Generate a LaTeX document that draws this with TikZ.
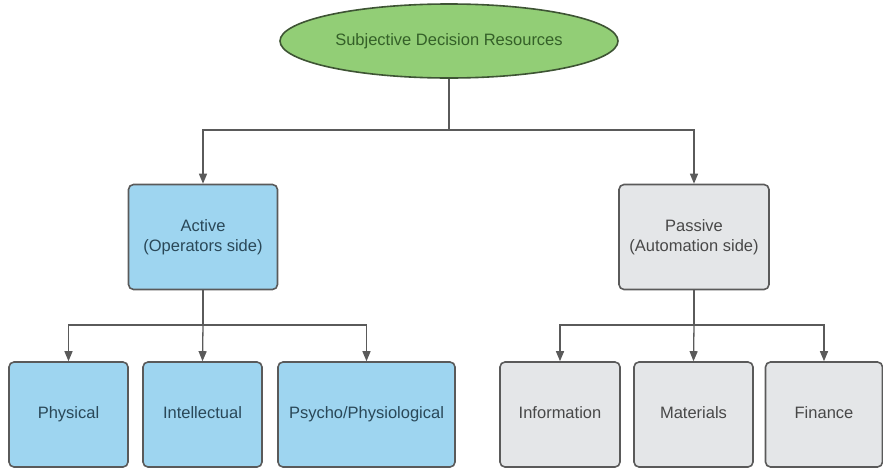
\documentclass[tikz,border=0pt]{standalone}
\usepackage{fontspec}
\setmainfont{Liberation Sans}
\usetikzlibrary{arrows.meta,shapes.geometric}

\definecolor{rootfill}{RGB}{146,206,118}
\definecolor{rootline}{RGB}{62,84,52}
\definecolor{rootText}{RGB}{52,96,40}
\definecolor{actfill}{RGB}{158,213,240}
\definecolor{actText}{RGB}{42,72,88}
\definecolor{pasfill}{RGB}{228,230,232}
\definecolor{pasText}{RGB}{72,72,72}
\definecolor{edge}{RGB}{90,90,90}

\tikzset{
  box/.style={draw=edge,line width=1.6pt,rounded corners=5pt,minimum height=105pt,
    align=center,font=\fontsize{16.5}{19.5}\selectfont},
  actbox/.style={box,fill=actfill,text=actText},
  pasbox/.style={box,fill=pasfill,text=pasText},
  leaf/.style={text height=12pt,text depth=3.5pt},
  link/.style={draw=edge,line width=1.3pt},
  arr/.style={link,-{Triangle[width=8pt,length=10pt]}}
}

\begin{document}
\begin{tikzpicture}[x=1pt,y=-1pt]
	\useasboundingbox (0,0) rectangle (883,469);
	\node[ellipse,draw=rootline,line width=1.6pt,fill=rootfill,text=rootText,minimum width=338pt,minimum height=74pt,
	  font=\fontsize{16.5}{19.5}\selectfont] (root) at (449,41) {Subjective Decision Resources};
	\node[actbox,minimum width=149pt] (active) at (203,237) {Active\\(Operators side)};
	\node[pasbox,minimum width=150pt] (passive) at (694,237) {Passive\\(Automation side)};
	\node[actbox,leaf,minimum width=119pt] (physical) at (68.5,414.5) {Physical};
	\node[actbox,leaf,minimum width=119pt] (intel) at (202.5,414.5) {Intellectual};
	\node[actbox,leaf,minimum width=177pt] (psycho) at (366.5,414.5) {Psycho/Physiological};
	\node[pasbox,leaf,minimum width=120pt] (info) at (560,414.5) {Information};
	\node[pasbox,leaf,minimum width=119pt] (mat) at (693.5,414.5) {Materials};
	\node[pasbox,leaf,minimum width=117pt] (fin) at (824,414.5) {Finance};
	% branch points
	\coordinate (j0) at (449,130);
	\coordinate (j1) at (203,325);
	\coordinate (j2) at (694,325);
	\draw[link] (root.south) -- (j0);
	\draw[arr] (j0) -| (active.north);
	\draw[arr] (j0) -| (passive.north);
	\draw[link] (active.south) -- (j1);
	\draw[arr] (j1) -| (physical.north);
	\draw[arr] (j1) -- (intel.north);
	\draw[arr] (j1) -| (psycho.north);
	\draw[link] (passive.south) -- (j2);
	\draw[arr] (j2) -| (info.north);
	\draw[arr] (j2) -- (mat.north);
	\draw[arr] (j2) -| (fin.north);
\end{tikzpicture}
\end{document}
